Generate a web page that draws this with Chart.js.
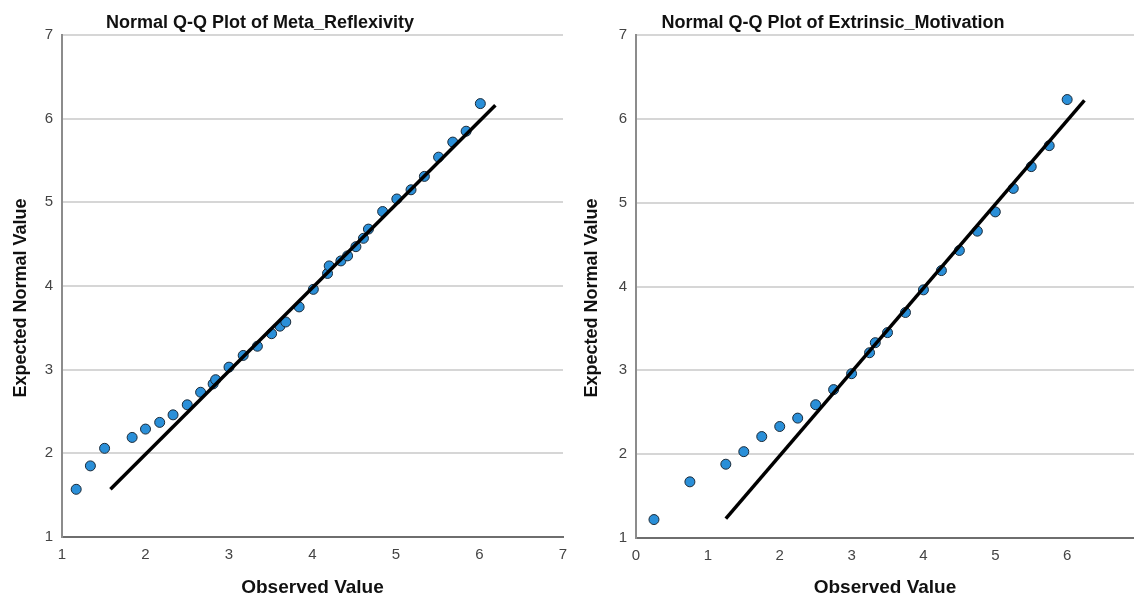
<!DOCTYPE html>
<html>
<head>
<meta charset="utf-8">
<script src="https://cdn.jsdelivr.net/npm/chart.js@4.4.1/dist/chart.umd.min.js"></script>
<style>
  body { margin: 0; background: #fff; }
  .wrap { display: flex; width: 1134px; height: 600px; }
  canvas { display: block; }
</style>
</head>
<body>
<div class="wrap">
  <canvas id="metaChart" width="567" height="600"></canvas>
  <canvas id="extChart" width="567" height="600"></canvas>
</div>
<script>
// Meta_Reflexivity : valeurs observées / valeurs normales attendues
const metaObserved = [1.17, 1.34, 1.51, 1.84, 2.0, 2.17, 2.33, 2.5, 2.81, 2.84, 2.66, 3.0, 3.17, 3.34, 3.51, 3.61, 3.68,
  3.84, 4.01, 4.18, 4.2, 4.34, 4.42, 4.52, 4.61, 4.67, 4.84, 5.01, 5.18, 5.34, 5.51, 5.68, 5.84, 6.01];
const metaExpected = [1.57, 1.85, 2.06, 2.19, 2.29, 2.37, 2.46, 2.58, 2.83, 2.88, 2.73, 3.03, 3.17, 3.28, 3.43, 3.52, 3.57,
  3.75, 3.96, 4.15, 4.24, 4.3, 4.36, 4.47, 4.57, 4.68, 4.89, 5.04, 5.15, 5.31, 5.54, 5.72, 5.85, 6.18];
const metaLineX = [1.58, 6.19];
const metaLineY = [1.57, 6.16];
const metaXTicks = [1, 2, 3, 4, 5, 6, 7];

// Extrinsic_Motivation
const extObserved = [0.25, 0.75, 1.25, 1.5, 1.75, 2.0, 2.25, 2.5, 2.75, 3.0, 3.25, 3.33, 3.5, 3.75,
  4.0, 4.25, 4.5, 4.75, 5.0, 5.25, 5.5, 5.75, 6.0];
const extExpected = [1.22, 1.67, 1.88, 2.03, 2.21, 2.33, 2.43, 2.59, 2.77, 2.96, 3.21, 3.33, 3.45, 3.69,
  3.96, 4.19, 4.43, 4.66, 4.89, 5.17, 5.43, 5.68, 6.23];
const extLineX = [1.25, 6.24];
const extLineY = [1.23, 6.22];
const extXTicks = [0, 1, 2, 3, 4, 5, 6];

const yTicks = [1, 2, 3, 4, 5, 6, 7];

const FONT = '"Liberation Sans", Arial, sans-serif';

// Titres (graphique + axe Y), placés comme dans SPSS
const plotTitle = {
  id: 'plotTitle',
  afterDraw(chart, args, o) {
    const ctx = chart.ctx;
    ctx.save();
    ctx.fillStyle = '#111';
    ctx.textAlign = 'center';
    ctx.font = 'bold 18px ' + FONT;
    ctx.textBaseline = 'alphabetic';
    ctx.fillText(o.text, o.x, o.y);
    ctx.translate(o.yTitleX, o.yTitleY);
    ctx.rotate(-Math.PI / 2);
    ctx.textBaseline = 'middle';
    ctx.fillText(o.yTitle, 0, 0);
    ctx.restore();
  }
};

function qqChart(id, cfg) {
  const pts = cfg.observed.map((v, i) => ({ x: v, y: cfg.expected[i] }));
  const line = cfg.lineX.map((v, i) => ({ x: v, y: cfg.lineY[i] }));
  return new Chart(document.getElementById(id), {
    type: 'scatter',
    data: {
      datasets: [
        { data: line, showLine: true, borderColor: '#000', borderWidth: 3.5, pointRadius: 0 },
        { data: pts, backgroundColor: '#2a8fd8', borderColor: '#1b2a38', borderWidth: 1, pointRadius: 5 }
      ]
    },
    options: {
      responsive: false,
      animation: false,
      layout: { autoPadding: false, padding: { top: 35, right: cfg.padRight, left: 0, bottom: 0 } },
      plugins: {
        legend: { display: false },
        tooltip: { enabled: false },
        plotTitle: { text: cfg.title, x: cfg.titleX, y: 28,
                     yTitle: 'Expected Normal Value', yTitleX: cfg.yTitleX, yTitleY: 298 }
      },
      scales: {
        x: {
          type: 'linear',
          min: cfg.xMin,
          max: cfg.xMax,
          afterBuildTicks: s => { s.ticks = cfg.xTicks.map(v => ({ value: v })); },
          afterFit: s => { s.height = cfg.xHeight; s.paddingRight = 0; s.paddingLeft = 0; },
          grid: { display: false, drawTicks: false },
          border: { display: true, color: '#6e6e6e', width: 2 },
          ticks: { color: '#444', font: { family: FONT, size: 15 }, padding: 9, maxRotation: 0 },
          title: { display: true, text: 'Observed Value', color: '#111',
                   font: { family: FONT, size: 19, weight: 'bold' }, padding: { top: 0, bottom: 1 } }
        },
        y: {
          type: 'linear',
          min: 1,
          max: 7,
          afterBuildTicks: s => { s.ticks = yTicks.map(v => ({ value: v })); },
          afterFit: s => { s.width = cfg.yWidth; },
          grid: { color: '#d6d6d6', lineWidth: 2, drawTicks: false },
          border: { display: true, color: '#8c8c8c', width: 2 },
          ticks: { color: '#444', font: { family: FONT, size: 15 }, padding: cfg.yTickPad }
        }
      }
    },
    plugins: [plotTitle]
  });
}

qqChart('metaChart', {
  observed: metaObserved, expected: metaExpected, lineX: metaLineX, lineY: metaLineY,
  xTicks: metaXTicks, xMin: 1, xMax: 7,
  title: 'Normal Q-Q Plot of Meta_Reflexivity', titleX: 260, yTitleX: 21,
  padRight: 4, yWidth: 62, xHeight: 63, yTickPad: 9
});

qqChart('extChart', {
  observed: extObserved, expected: extExpected, lineX: extLineX, lineY: extLineY,
  xTicks: extXTicks, xMin: 0, xMax: 6.93,
  title: 'Normal Q-Q Plot of Extrinsic_Motivation', titleX: 266, yTitleX: 25,
  padRight: 0, yWidth: 69, xHeight: 62, yTickPad: 9
});
</script>
</body>
</html>
